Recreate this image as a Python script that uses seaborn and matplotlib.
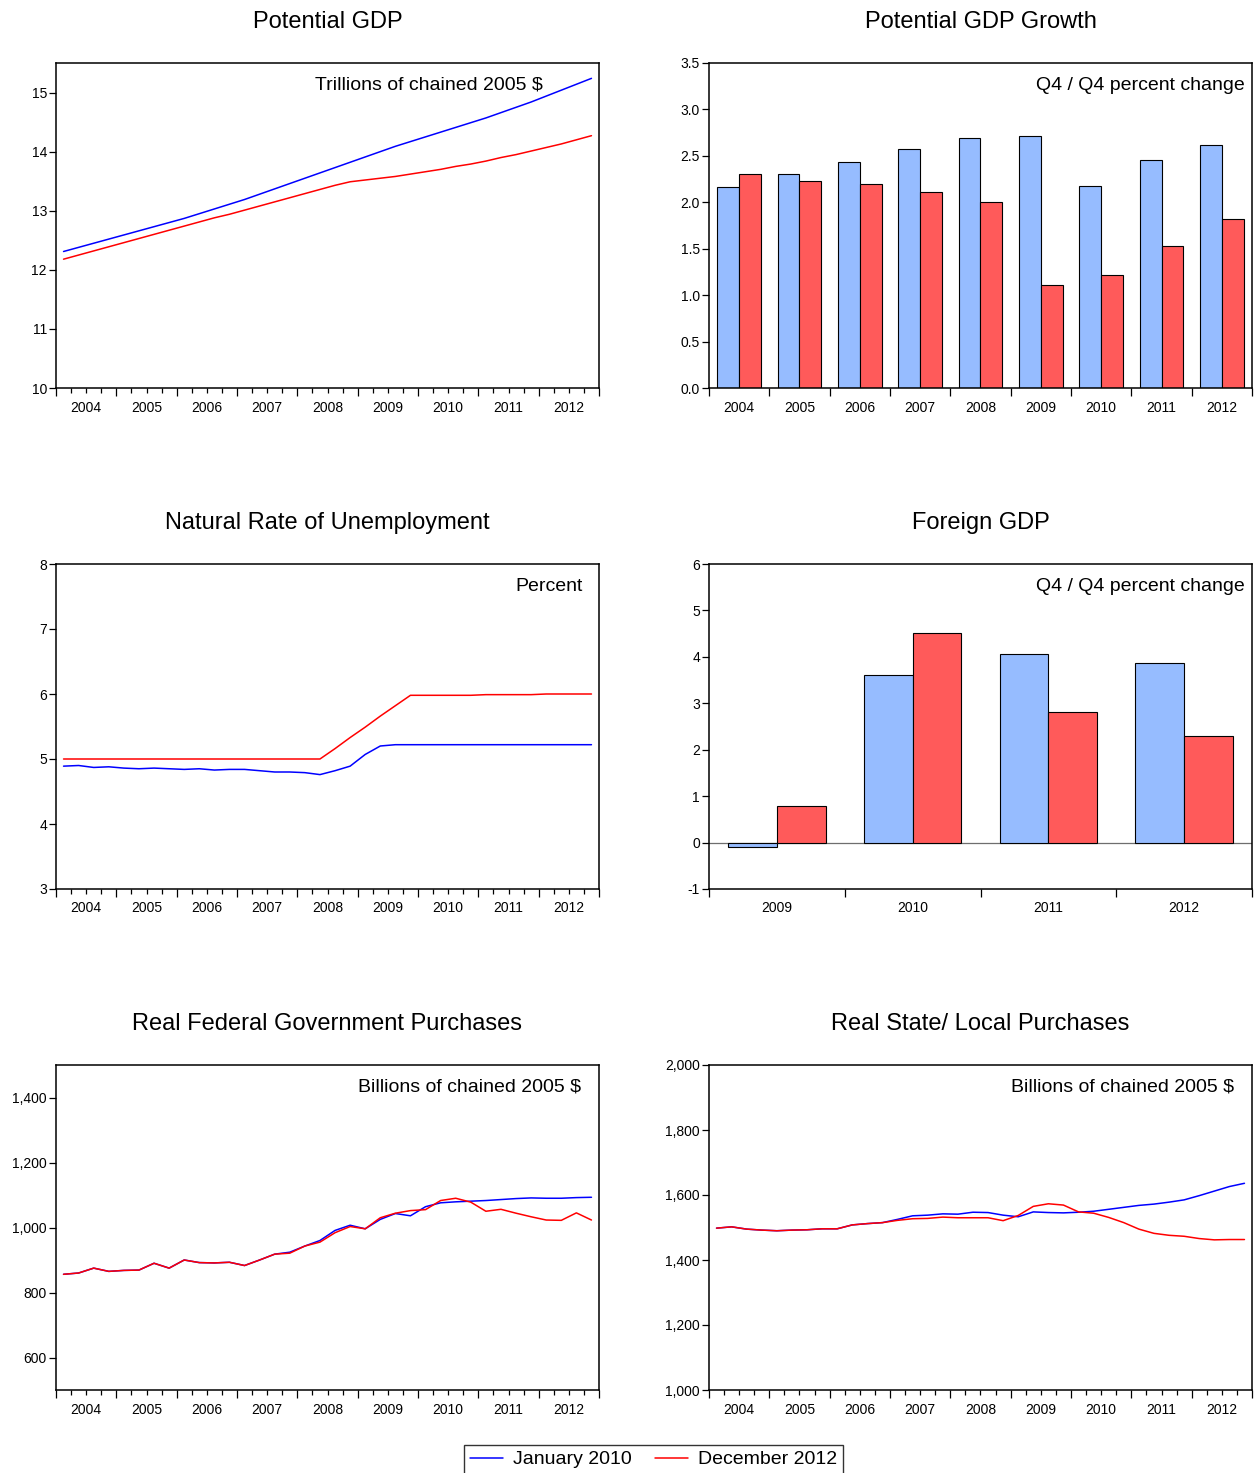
import numpy as np
import pandas as pd
import matplotlib
matplotlib.use("Agg")
import matplotlib.pyplot as plt
from matplotlib.lines import Line2D
from matplotlib.ticker import FuncFormatter
import seaborn as sns

# ---------------------------------------------------------------- data
years = [2004, 2005, 2006, 2007, 2008, 2009, 2010, 2011, 2012]
year_labels = [str(y) for y in years]
vintages = ["January 2010", "December 2012"]

# Potential GDP, trillions of chained 2005 $, quarterly 2004Q1-2012Q4
pot_gdp_jan10 = [12.31, 12.38, 12.45, 12.52, 12.59, 12.66, 12.73, 12.80,
                 12.87, 12.95, 13.03, 13.11, 13.19, 13.28, 13.37, 13.46,
                 13.55, 13.64, 13.73, 13.82, 13.91, 14.00, 14.09, 14.17,
                 14.25, 14.33, 14.41, 14.49, 14.57, 14.66, 14.75, 14.84,
                 14.94, 15.04, 15.14, 15.24]
pot_gdp_dec12 = [12.18, 12.25, 12.32, 12.39, 12.46, 12.53, 12.60, 12.67,
                 12.74, 12.81, 12.88, 12.94, 13.01, 13.08, 13.15, 13.22,
                 13.29, 13.36, 13.43, 13.49, 13.52, 13.55, 13.58, 13.62,
                 13.66, 13.70, 13.75, 13.79, 13.84, 13.90, 13.95, 14.01,
                 14.07, 14.13, 14.20, 14.27]

# Potential GDP growth, Q4/Q4 percent change
growth_jan10 = [2.16, 2.30, 2.43, 2.57, 2.69, 2.71, 2.18, 2.46, 2.62]
growth_dec12 = [2.30, 2.23, 2.20, 2.11, 2.00, 1.11, 1.22, 1.53, 1.82]

# Natural rate of unemployment, percent
nairu_jan10 = [4.89, 4.90, 4.87, 4.88, 4.86, 4.85, 4.86, 4.85,
               4.84, 4.85, 4.83, 4.84, 4.84, 4.82, 4.80, 4.80,
               4.79, 4.76, 4.82, 4.89, 5.07, 5.20, 5.22, 5.22,
               5.22, 5.22, 5.22, 5.22, 5.22, 5.22, 5.22, 5.22,
               5.22, 5.22, 5.22, 5.22]
nairu_dec12 = [5.00, 5.00, 5.00, 5.00, 5.00, 5.00, 5.00, 5.00,
               5.00, 5.00, 5.00, 5.00, 5.00, 5.00, 5.00, 5.00,
               5.00, 5.00, 5.16, 5.33, 5.49, 5.66, 5.82, 5.98,
               5.98, 5.98, 5.98, 5.98, 5.99, 5.99, 5.99, 5.99,
               6.00, 6.00, 6.00, 6.00]

# Foreign GDP, Q4/Q4 percent change
foreign_years = ["2009", "2010", "2011", "2012"]
foreign_jan10 = [-0.10, 3.62, 4.06, 3.87]
foreign_dec12 = [0.79, 4.51, 2.81, 2.29]

# Real federal government purchases, billions of chained 2005 $
fed_jan10 = [856, 860, 875, 865, 868, 869, 890, 875,
             900, 892, 891, 893, 883, 900, 918, 924,
             943, 960, 991, 1007, 996, 1025, 1043, 1036,
             1064, 1076, 1079, 1081, 1083, 1086, 1089, 1091,
             1090, 1090, 1092, 1093]
fed_dec12 = [856, 860, 875, 865, 868, 869, 890, 875,
             900, 892, 891, 893, 883, 900, 918, 921,
             943, 955, 984, 1003, 996, 1030, 1044, 1052,
             1055, 1083, 1090, 1078, 1050, 1056, 1044, 1033,
             1023, 1022, 1045, 1023]

# Real state & local purchases, billions of chained 2005 $
sl_jan10 = [1498, 1502, 1495, 1492, 1490, 1492, 1493, 1496,
            1496, 1508, 1512, 1515, 1525, 1536, 1538, 1542,
            1541, 1547, 1546, 1538, 1533, 1548, 1546, 1545,
            1547, 1550, 1556, 1562, 1568, 1572, 1578, 1585,
            1598, 1612, 1626, 1636]
sl_dec12 = [1498, 1502, 1495, 1492, 1490, 1492, 1493, 1496,
            1496, 1508, 1512, 1515, 1522, 1527, 1528, 1532,
            1530, 1530, 1530, 1521, 1537, 1565, 1573, 1569,
            1548, 1544, 1531, 1515, 1495, 1482, 1476, 1473,
            1466, 1462, 1463, 1463]

# ---------------------------------------------------------------- style
sns.set_style("ticks")
plt.rcParams["font.family"] = ["Liberation Sans", "DejaVu Sans"]
plt.rcParams["axes.linewidth"] = 1.1
plt.rcParams["axes.edgecolor"] = "black"
plt.rcParams["axes.unicode_minus"] = False
for key in ("text.color", "axes.labelcolor", "xtick.color", "ytick.color",
            "axes.titlecolor"):
    plt.rcParams[key] = "black"

LINE_BLUE = "#0000FF"
LINE_RED = "#FF0000"
BAR_BLUE = "#96BCFF"
BAR_RED = "#FF5A5A"
TICK_FS = 10
NOTE_FS = 14
TITLE_FS = 17

W, H = 1259, 1473
fig = plt.figure(figsize=(W / 100, H / 100), dpi=100)

col_left = [56, 709]
col_width = 543
row_top = [63, 564, 1065]
row_height = 325


def make_axes(row, col):
    x0 = col_left[col] / W
    y0 = 1 - (row_top[row] + row_height) / H
    return fig.add_axes([x0, y0, col_width / W, row_height / H])


def style_common(ax, title, note, note_x):
    ax.set_title(title, fontsize=TITLE_FS, pad=25)
    ax.text(note_x, 0.932, note, transform=ax.transAxes, ha="right",
            va="center", fontsize=NOTE_FS)
    ax.set_xlabel("")
    ax.set_ylabel("")
    for s in ax.spines.values():
        s.set_visible(True)
        s.set_linewidth(1.1)
    ax.tick_params(axis="y", which="major", length=5, width=0.9,
                   labelsize=TICK_FS, pad=1.5, direction="out")


def period_axis(ax, n_groups, per_group, labels):
    n = n_groups * per_group
    ax.set_xlim(-0.5, n - 0.5)
    ax.set_xticks(np.arange(-0.5, n, per_group))
    ax.set_xticklabels([])
    if per_group > 1:
        ax.set_xticks(np.arange(-0.5, n, 1), minor=True)
    ax.tick_params(axis="x", which="major", length=6, width=0.9,
                   direction="out")
    ax.tick_params(axis="x", which="minor", length=3.3, width=0.9,
                   direction="out")
    sec = ax.secondary_xaxis("bottom")
    centers = np.arange(n_groups) * per_group + (per_group - 1) / 2
    sec.set_xticks(centers, labels=labels)
    sec.tick_params(length=0, pad=9, labelsize=TICK_FS)
    sec.spines["bottom"].set_visible(False)


def quarterly_lines(ax, jan, dec):
    q = np.arange(len(jan))
    sns.lineplot(x=q, y=jan, color=LINE_BLUE, lw=1.1, ax=ax)
    sns.lineplot(x=q, y=dec, color=LINE_RED, lw=1.1, ax=ax)
    period_axis(ax, len(years), 4, year_labels)


def grouped_bars(ax, cats, jan, dec):
    df = pd.DataFrame({
        "period": list(cats) * 2,
        "value": list(jan) + list(dec),
        "vintage": [vintages[0]] * len(cats) + [vintages[1]] * len(cats),
    })
    sns.barplot(data=df, x="period", y="value", hue="vintage",
                hue_order=vintages, palette=[BAR_BLUE, BAR_RED],
                width=0.72, gap=0, errorbar=None, edgecolor="black",
                linewidth=0.8, legend=False, saturation=1, ax=ax)
    period_axis(ax, len(cats), 1, list(cats))


comma = FuncFormatter(lambda v, _: f"{v:,.0f}")

# Potential GDP
ax1 = make_axes(0, 0)
quarterly_lines(ax1, pot_gdp_jan10, pot_gdp_dec12)
ax1.set_ylim(10, 15.5)
ax1.set_yticks(np.arange(10, 15.1, 1))
style_common(ax1, "Potential GDP", "Trillions of chained 2005 $", 0.897)

# Potential GDP growth
ax2 = make_axes(0, 1)
grouped_bars(ax2, year_labels, growth_jan10, growth_dec12)
ax2.set_ylim(0, 3.5)
ax2.set_yticks(np.arange(0, 3.51, 0.5))
ax2.yaxis.set_major_formatter(FuncFormatter(lambda v, _: f"{v:.1f}"))
style_common(ax2, "Potential GDP Growth", "Q4 / Q4 percent change", 0.987)

# Natural rate of unemployment
ax3 = make_axes(1, 0)
quarterly_lines(ax3, nairu_jan10, nairu_dec12)
ax3.set_ylim(3, 8)
ax3.set_yticks(np.arange(3, 8.1, 1))
style_common(ax3, "Natural Rate of Unemployment", "Percent", 0.9705)

# Foreign GDP
ax4 = make_axes(1, 1)
ax4.axhline(0, color="#6E6E6E", lw=0.9, zorder=0.5)
grouped_bars(ax4, foreign_years, foreign_jan10, foreign_dec12)
ax4.set_ylim(-1, 6)
ax4.set_yticks(np.arange(-1, 6.1, 1))
style_common(ax4, "Foreign GDP", "Q4 / Q4 percent change", 0.987)

# Real federal government purchases
ax5 = make_axes(2, 0)
quarterly_lines(ax5, fed_jan10, fed_dec12)
ax5.set_ylim(500, 1500)
ax5.set_yticks(np.arange(600, 1401, 200))
ax5.yaxis.set_major_formatter(comma)
style_common(ax5, "Real Federal Government Purchases",
             "Billions of chained 2005 $", 0.967)

# Real state / local purchases
ax6 = make_axes(2, 1)
quarterly_lines(ax6, sl_jan10, sl_dec12)
ax6.set_ylim(1000, 2000)
ax6.set_yticks(np.arange(1000, 2001, 200))
ax6.yaxis.set_major_formatter(comma)
style_common(ax6, "Real State/ Local Purchases",
             "Billions of chained 2005 $", 0.967)

# Shared legend
handles = [Line2D([], [], color=LINE_BLUE, lw=1.1),
           Line2D([], [], color=LINE_RED, lw=1.1)]
leg = fig.legend(handles, vintages, loc="upper center",
                 bbox_to_anchor=(653.5 / W, 1 - 1445 / H), ncol=2,
                 frameon=True, fancybox=False, edgecolor="black",
                 fontsize=14, handlelength=1.7, handletextpad=0.5,
                 columnspacing=1.2, borderpad=0.3, borderaxespad=0)
leg.get_frame().set_linewidth(1.0)

fig.savefig("out.png", dpi=100)
